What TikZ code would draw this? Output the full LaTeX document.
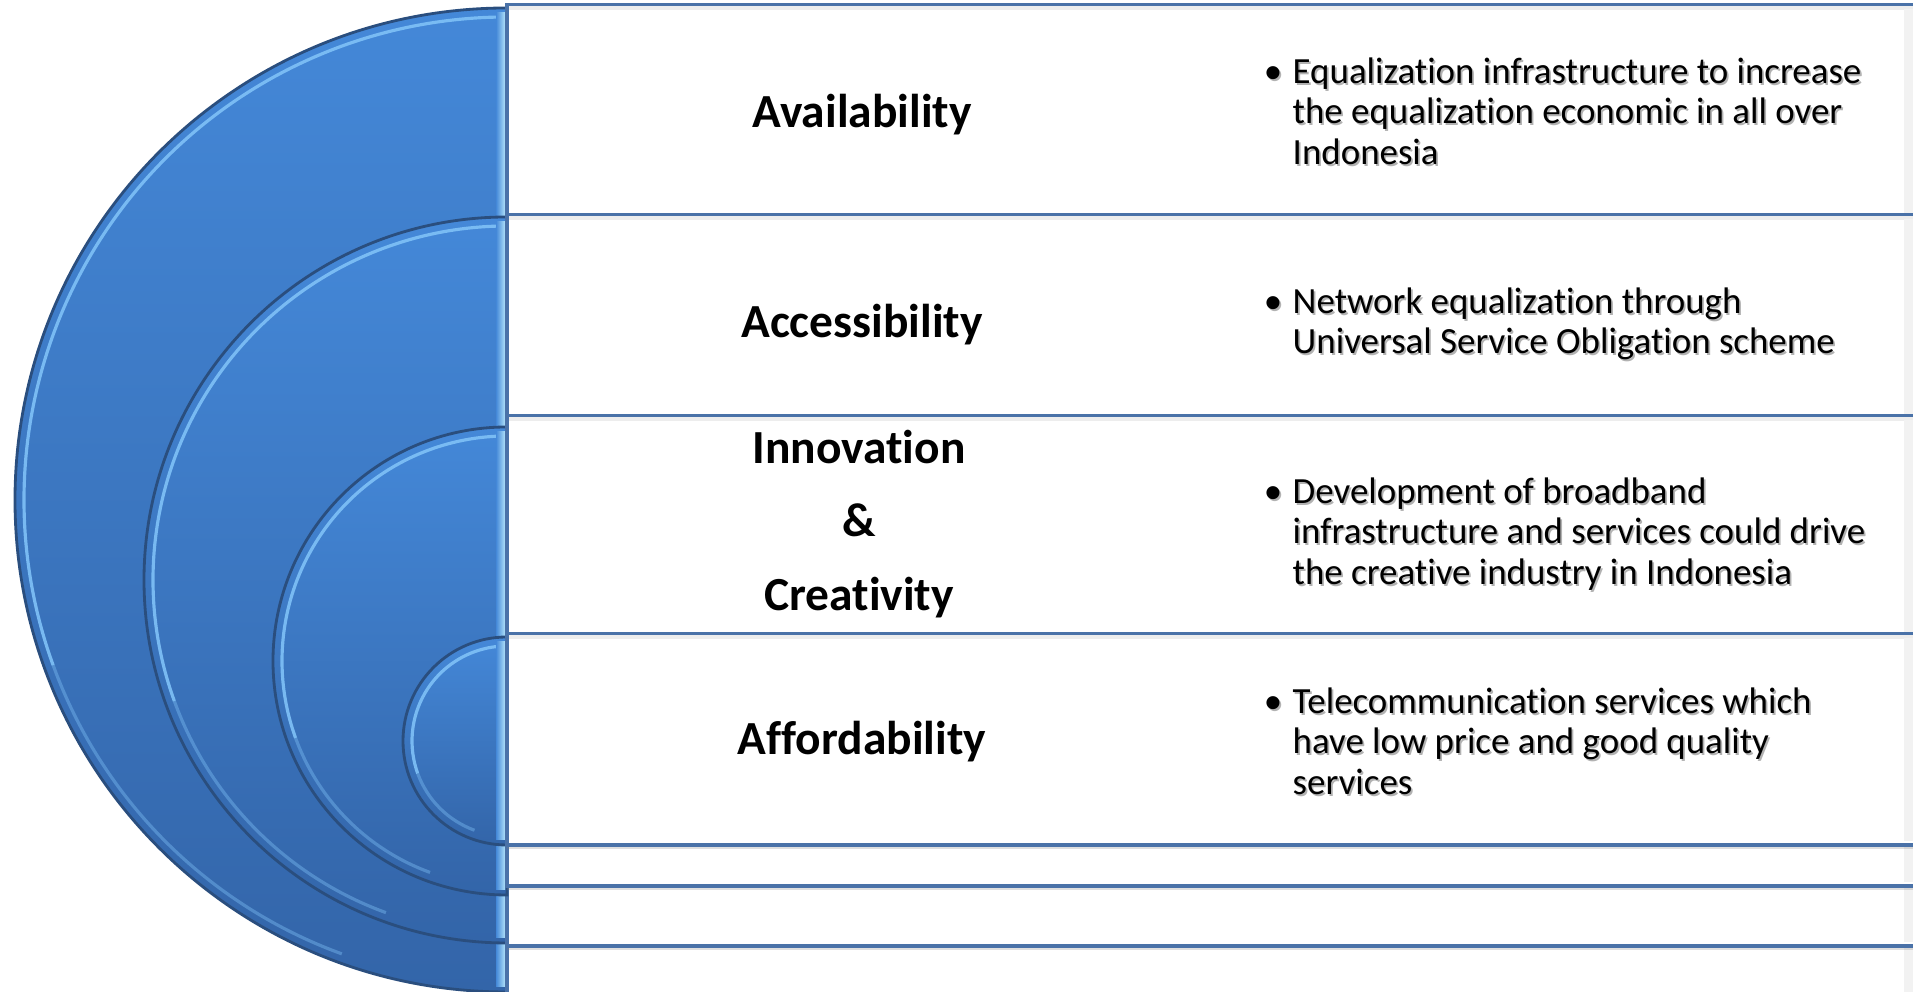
\documentclass[tikz,border=0pt]{standalone}
\usepackage{fontspec}
\setmainfont{Carlito}[Ligatures={NoCommon,NoContextual}]
\usetikzlibrary{shadows}

\definecolor{ringtop}{HTML}{4488D8}
\definecolor{ringbottom}{HTML}{3365A9}
\definecolor{ringedge}{HTML}{2A4E7E}
\definecolor{ringglow}{HTML}{7FC1F7}
\definecolor{ringface}{HTML}{AEE0F9}
\definecolor{boxline}{HTML}{4A72A8}

% bullet text with its soft grey shadow
\newcommand\bulletnode[3]{%
  \node[bullettext, text=black!30] (#1-shade) at ([xshift=0.5pt,yshift=-0.6pt]#2) {#3};
  \node[bullettext] (#1) at (#2) {#3};%
}

\begin{document}
\begin{tikzpicture}[
  x=0.01cm, y=0.01cm,
  ring/.style={
    top color=ringtop,
    bottom color=ringbottom,
    draw=ringedge,
    line width=0.8pt
  },
  glow/.style={draw=ringglow, line width=0.9pt},
  panel/.style={
    draw=boxline,
    line width=0.9pt,
    fill=white,
    drop shadow={opacity=0.25, shadow xshift=0pt, shadow yshift=-1.2pt}
  },
  label/.style={font=\bfseries\fontsize{13.5}{21}\selectfont, align=center, inner sep=0pt},
  bullettext/.style={font=\fontsize{10.5}{11.5}\selectfont, align=left, anchor=west, inner sep=0pt}
]

\useasboundingbox (0,0) rectangle (1913,992);
\clip (0,0) rectangle (1913,992);

% Half discs with their panels, outermost first
\foreach \cy/\r/\bt/\bb in {492/492/987/-20, 412/363/777/46, 331/234/576/106, 251/104/358/147} {
  \shade[ring] (507,\cy+\r) arc[start angle=90, end angle=270, radius=\r] -- cycle;
  \draw[glow, opacity=0.9] (507,\cy+\r-9) arc[start angle=90, end angle=200, radius=\r-9];
  \draw[glow, opacity=0.4] ([shift={(200:\r-9)}]507,\cy) arc[start angle=200, end angle=250, radius=\r-9];
  \shade[left color=ringtop, right color=ringface] (496,\cy-\r+5) rectangle (505,\cy+\r-5);
  \draw[panel] (507,\bb) rectangle (1960,\bt);
  \draw[black!7, line width=1.2pt] (509,\bt-3) -- (1913,\bt-3);
  \fill[black!5] (1904,\bb+4) rectangle (1913,\bt-4);
}

% Level names
\node[label] (avail) at (862,877) {Availability};
\node[label] (access) at (862,667) {Accessibility};
\node[label] (innov) at (859,468) {Innovation\\\&\\Creativity};
\node[label] (afford) at (862,250) {Affordability};

% Descriptions
\bulletnode{availtxt}{1292,881}{\llap{\textbullet\hspace{3pt}}Equalization infrastructure to increase\\the equalization economic in all over\\Indonesia}
\bulletnode{accesstxt}{1292,668}{\llap{\textbullet\hspace{3pt}}Network equalization through\\Universal Service Obligation scheme}
\bulletnode{innovtxt}{1292,458}{\llap{\textbullet\hspace{3pt}}Development of broadband\\infrastructure and services could drive\\the creative industry in Indonesia}
\bulletnode{affordtxt}{1292,251}{\llap{\textbullet\hspace{3pt}}Telecommunication services which\\have low price and good quality\\services}

\end{tikzpicture}
\end{document}
